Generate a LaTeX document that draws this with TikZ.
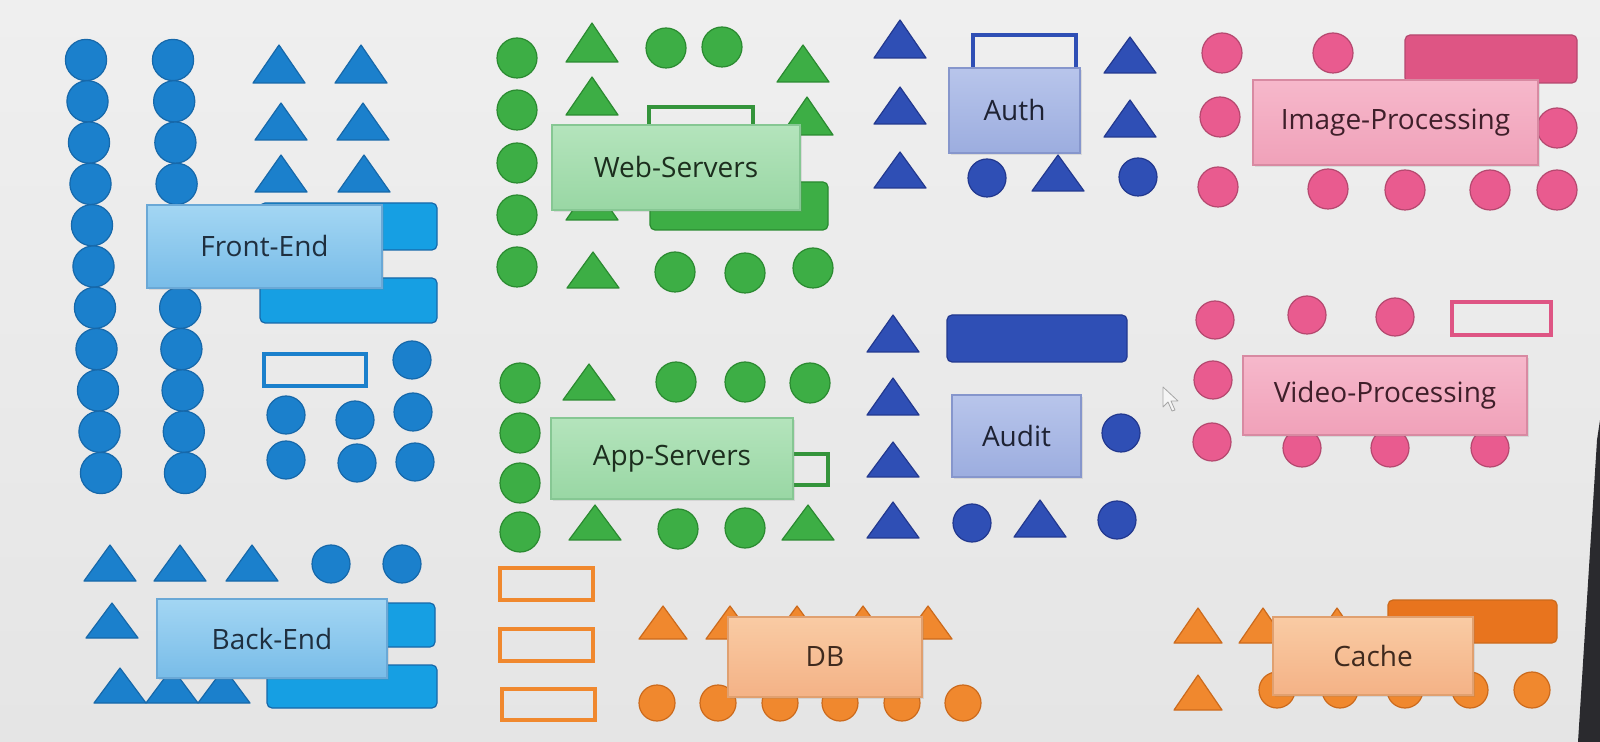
\documentclass[tikz,border=0pt]{standalone}
\usepackage{fontspec}
\setmainfont{Open Sans}
\usetikzlibrary{shadows}
\definecolor{bgT}{HTML}{EFEFEF}
\definecolor{bgB}{HTML}{E5E5E5}
\definecolor{bezel}{HTML}{2A2A2E}
\definecolor{feC}{HTML}{1B80CC}
\definecolor{feR}{HTML}{169FE3}
\definecolor{feD}{HTML}{1668AA}
\definecolor{feL1}{HTML}{A3D6F3}
\definecolor{feL2}{HTML}{78BCE8}
\definecolor{feLD}{HTML}{6AA8D6}
\definecolor{grC}{HTML}{3DAE45}
\definecolor{grD}{HTML}{2A8A30}
\definecolor{grL1}{HTML}{B4E4BC}
\definecolor{grL2}{HTML}{99D7A4}
\definecolor{grLD}{HTML}{86C793}
\definecolor{dbC}{HTML}{2F4FB5}
\definecolor{dbD}{HTML}{22388F}
\definecolor{dbL1}{HTML}{B8C5EB}
\definecolor{dbL2}{HTML}{9CADDF}
\definecolor{dbLD}{HTML}{8696CC}
\definecolor{pkC}{HTML}{E95B8F}
\definecolor{pkR}{HTML}{DE5584}
\definecolor{pkD}{HTML}{B5486F}
\definecolor{pkL1}{HTML}{F6B8CB}
\definecolor{pkL2}{HTML}{F0A1B9}
\definecolor{pkLD}{HTML}{D88AA2}
\definecolor{orC}{HTML}{F0882E}
\definecolor{orR}{HTML}{E8741E}
\definecolor{orD}{HTML}{CC6A1C}
\definecolor{orL1}{HTML}{F9CBA4}
\definecolor{orL2}{HTML}{F4B286}
\definecolor{orLD}{HTML}{E0A070}
\definecolor{txtfe}{HTML}{1F2F3F}
\definecolor{txtgr}{HTML}{1C2E1E}
\definecolor{txtdb}{HTML}{1E2233}
\definecolor{txtpk}{HTML}{3F1F2A}
\definecolor{txtog}{HTML}{3F2A1E}
\tikzset{
  fe/.style={fill=feC, draw=feD, line width=0.6pt, line join=round},
  fer/.style={fill=feR, draw=feD, line width=0.6pt},
  feo/.style={draw=feC},
  gr/.style={fill=grC, draw=grD, line width=0.6pt, line join=round},
  gro/.style={draw=grC!85!black},
  db/.style={fill=dbC, draw=dbD, line width=0.6pt, line join=round},
  dbo/.style={draw=dbC},
  pk/.style={fill=pkC, draw=pkD, line width=0.6pt, line join=round},
  pkr/.style={fill=pkR, draw=pkD, line width=0.6pt},
  pko/.style={draw=pkR},
  og/.style={fill=orC, draw=orD, line width=0.6pt, line join=round},
  ogr/.style={fill=orR, draw=orD, line width=0.6pt},
  ogo/.style={draw=orC},
  lbl/.style={inner sep=0pt, line width=0.6pt, font=\fontsize{14}{16}\selectfont,
    drop shadow={opacity=0.18, shadow xshift=1pt, shadow yshift=-1pt}},
  lblfe/.style={lbl, top color=feL1, bottom color=feL2, draw=feLD, text=txtfe},
  lblgr/.style={lbl, top color=grL1, bottom color=grL2, draw=grLD, text=txtgr},
  lbldb/.style={lbl, top color=dbL1, bottom color=dbL2, draw=dbLD, text=txtdb},
  lblpk/.style={lbl, top color=pkL1, bottom color=pkL2, draw=pkLD, text=txtpk},
  lblog/.style={lbl, top color=orL1, bottom color=orL2, draw=orLD, text=txtog},
}
\newcommand\Cir[4][19]{\filldraw[#2] (#3,#4) circle[radius={#1*0.5pt}];}
\newcommand\Tri[5][26]{\filldraw[#2] ({#3-#1},#5) -- (#3,#4) -- ({#3+#1},#5) -- cycle;}
\newcommand\FillBox[5]{\filldraw[#1, rounded corners=2.5pt] (#2,#3) rectangle (#4,#5);}
\newcommand\LineBox[5]{\draw[#1, line width=2.4pt] (#2,#3) rectangle (#4,#5);}
\begin{document}
\begin{tikzpicture}[x=0.5pt,y=-0.5pt]
\useasboundingbox (0,0) rectangle (1600,742);
\shade[top color=bgT, bottom color=bgB] (0,0) rectangle (1600,742);
\fill[bezel] (1600,420) -- (1597,440) -- (1578,742) -- (1600,742) -- cycle;

% ---------- Front-End ----------
\foreach \i in {0,...,10} {
  \filldraw[fe] ({86+1.5*\i},{60+41.3*\i}) circle[radius=10.3pt];
  \filldraw[fe] ({173+1.2*\i},{60+41.3*\i}) circle[radius=10.3pt];
}
\Tri{fe}{279}{45}{83} \Tri{fe}{361}{45}{83}
\Tri{fe}{281}{103}{140} \Tri{fe}{363}{103}{140}
\Tri{fe}{281}{155}{192} \Tri{fe}{364}{155}{192}
\FillBox{fer}{260}{203}{437}{250}
\FillBox{fer}{260}{278}{437}{323}
\LineBox{feo}{264}{354}{366}{386}
\Cir{fe}{412}{360} \Cir{fe}{286}{415} \Cir{fe}{355}{420} \Cir{fe}{413}{412}
\Cir{fe}{286}{460} \Cir{fe}{357}{463} \Cir{fe}{415}{462}

% ---------- Back-End ----------
\Tri{fe}{110}{545}{581} \Tri{fe}{180}{545}{581} \Tri{fe}{252}{545}{581}
\Tri{fe}{112}{603}{638}
\Tri{fe}{120}{668}{703} \Tri{fe}{172}{668}{703} \Tri{fe}{224}{668}{703}
\Cir{fe}{331}{564} \Cir{fe}{402}{564}
\FillBox{fer}{262}{603}{435}{647}
\FillBox{fer}{267}{665}{437}{708}

% ---------- Web-Servers ----------
\Cir[20]{gr}{517}{58} \Cir[20]{gr}{517}{110} \Cir[20]{gr}{517}{163}
\Cir[20]{gr}{517}{215} \Cir[20]{gr}{517}{267}
\Cir[20]{gr}{666}{48} \Cir[20]{gr}{722}{47}
\Cir[20]{gr}{675}{272} \Cir[20]{gr}{745}{273} \Cir[20]{gr}{813}{268}
\Tri{gr}{592}{23}{62} \Tri{gr}{592}{77}{115} \Tri{gr}{592}{183}{220}
\Tri{gr}{593}{252}{288} \Tri{gr}{803}{45}{82} \Tri{gr}{807}{97}{135}
\LineBox{gro}{649}{107}{753}{141}
\FillBox{gr}{650}{182}{828}{230}

% ---------- App-Servers ----------
\Cir[20]{gr}{520}{383} \Cir[20]{gr}{520}{433} \Cir[20]{gr}{520}{483} \Cir[20]{gr}{520}{532}
\Cir[20]{gr}{676}{382} \Cir[20]{gr}{745}{382} \Cir[20]{gr}{810}{383}
\Cir[20]{gr}{678}{529} \Cir[20]{gr}{745}{528}
\Tri{gr}{589}{364}{400} \Tri{gr}{595}{505}{540} \Tri{gr}{808}{505}{540}
\LineBox{gro}{722}{454}{828}{485}

% ---------- Auth ----------
\Tri{db}{900}{20}{58} \Tri{db}{900}{87}{124} \Tri{db}{900}{152}{188}
\Tri{db}{1130}{37}{73} \Tri{db}{1130}{100}{137} \Tri{db}{1058}{155}{191}
\Cir{db}{987}{178} \Cir{db}{1138}{177}
\LineBox{dbo}{973}{35}{1076}{71}

% ---------- Audit ----------
\Tri{db}{893}{315}{352} \Tri{db}{893}{378}{415} \Tri{db}{893}{442}{477}
\Tri{db}{893}{502}{538} \Tri{db}{1040}{500}{537}
\FillBox{db}{947}{315}{1127}{362}
\Cir{db}{1121}{433} \Cir{db}{972}{523} \Cir{db}{1117}{520}

% ---------- Image-Processing ----------
\Cir[20]{pk}{1222}{53} \Cir[20]{pk}{1333}{53} \Cir[20]{pk}{1220}{117}
\Cir[20]{pk}{1557}{128} \Cir[20]{pk}{1218}{187} \Cir[20]{pk}{1328}{189}
\Cir[20]{pk}{1405}{190} \Cir[20]{pk}{1490}{190} \Cir[20]{pk}{1557}{190}
\FillBox{pkr}{1405}{35}{1577}{83}

% ---------- Video-Processing ----------
\Cir{pk}{1215}{320} \Cir{pk}{1307}{315} \Cir{pk}{1395}{317}
\Cir{pk}{1213}{380} \Cir{pk}{1212}{442}
\Cir{pk}{1302}{448} \Cir{pk}{1390}{448} \Cir{pk}{1490}{448}
\LineBox{pko}{1452}{302}{1551}{335}

% ---------- DB ----------
\LineBox{ogo}{500}{568}{593}{600}
\LineBox{ogo}{500}{629}{593}{661}
\LineBox{ogo}{502}{689}{595}{720}
\foreach \x in {663,730,797,863,928} { \Tri[24]{og}{\x}{606}{639} }
\foreach \x in {657,718,780,840,902,963} { \Cir[18]{og}{\x}{703} }

% ---------- Cache ----------
\Tri[24]{og}{1198}{608}{643} \Tri[24]{og}{1263}{608}{643} \Tri[24]{og}{1337}{608}{643}
\Tri[24]{og}{1198}{675}{710}
\FillBox{ogr}{1388}{600}{1557}{643}
\foreach \x in {1277,1340,1405,1470,1532} { \Cir[18]{og}{\x}{690} }

% ---------- mouse pointer ----------
\draw[draw=black!35, fill=white!96!black, line width=0.4pt, line join=round]
  (1163,387) -- (1163,407) -- (1168,402) -- (1172,411) -- (1175,410) -- (1171,401) -- (1178,401) -- cycle;

% ---------- labels ----------
\node[lblfe, minimum width=117.5pt, minimum height=41.5pt] (frontend) at (264.5,246.5) {Front-End};
\node[lblfe, minimum width=115pt, minimum height=39.5pt] (backend) at (272,638.5) {Back-End};
\node[lblgr, minimum width=124pt, minimum height=42.5pt] (web) at (676,167.5) {Web-Servers};
\node[lblgr, minimum width=121pt, minimum height=40.5pt] (app) at (672,458.5) {App-Servers};
\node[lbldb, minimum width=65.5pt, minimum height=42.5pt] (auth) at (1014.5,110.5) {Auth};
\node[lbldb, minimum width=64.5pt, minimum height=41pt] (audit) at (1016.5,436) {Audit};
\node[lblpk, minimum width=142.5pt, minimum height=42.5pt] (image) at (1395.5,122.5) {Image-Processing};
\node[lblpk, minimum width=142pt, minimum height=39.5pt] (video) at (1385,395.5) {Video-Processing};
\node[lblog, minimum width=97pt, minimum height=40pt] (db) at (825,657) {DB};
\node[lblog, minimum width=100pt, minimum height=39pt] (cache) at (1373,656) {Cache};
\end{tikzpicture}
\end{document}
